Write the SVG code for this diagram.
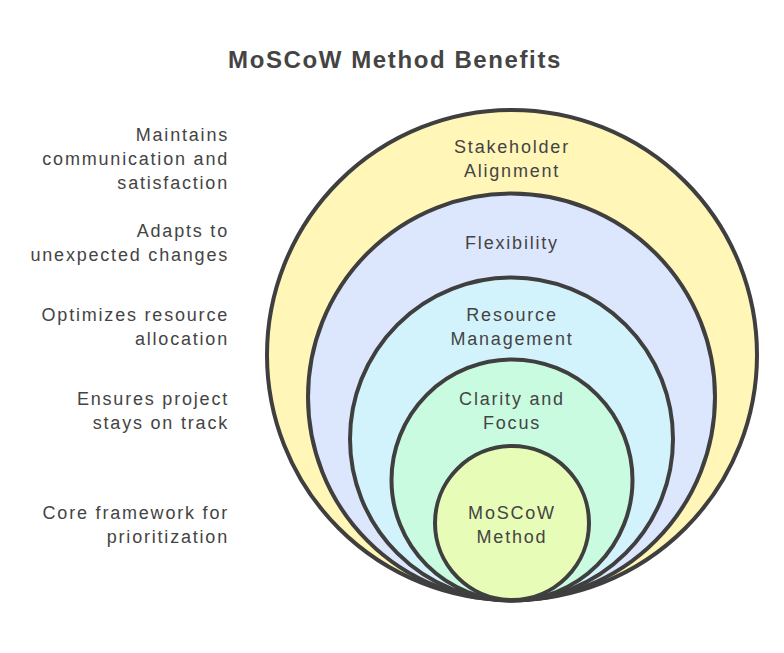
<svg xmlns="http://www.w3.org/2000/svg" width="784" height="653" viewBox="0 0 784 653">
<style>
.ring{stroke:#3f3f3f;stroke-width:4;}
.lbl{font-family:"Liberation Sans",Arial,sans-serif;font-size:18px;fill:#444;letter-spacing:1.8px;}
.in{text-anchor:middle;}
.side{text-anchor:end;}
.title{font-family:"Liberation Sans",Arial,sans-serif;font-size:24px;font-weight:bold;fill:#444;text-anchor:middle;letter-spacing:1.6px;}
</style>
<rect width="784" height="653" fill="#ffffff"/>
<text class="title" x="395" y="68">MoSCoW Method Benefits</text>
<g id="node-stakeholder">
<circle class="ring" cx="512" cy="355" r="245" fill="#fff6b8"/>
<text class="lbl in" x="512" y="153">Stakeholder</text>
<text class="lbl in" x="512" y="177">Alignment</text>
</g>
<g id="node-flexibility">
<circle class="ring" cx="511.5" cy="397" r="203.5" fill="#dce7fd"/>
<text class="lbl in" x="512" y="249">Flexibility</text>
</g>
<g id="node-resource">
<circle class="ring" cx="511.5" cy="439" r="161.5" fill="#d3f3fc"/>
<text class="lbl in" x="512" y="321">Resource</text>
<text class="lbl in" x="512" y="345">Management</text>
</g>
<g id="node-clarity">
<circle class="ring" cx="512" cy="480" r="120.5" fill="#c9fbe1"/>
<text class="lbl in" x="512" y="405">Clarity and</text>
<text class="lbl in" x="512" y="429">Focus</text>
</g>
<g id="node-moscow">
<circle class="ring" cx="512" cy="523" r="77" fill="#e7fcb6"/>
<text class="lbl in" x="512" y="519">MoSCoW</text>
<text class="lbl in" x="512" y="543">Method</text>
</g>
<g id="descriptions">
<text class="lbl side" x="229" y="141">Maintains</text>
<text class="lbl side" x="229" y="165">communication and</text>
<text class="lbl side" x="229" y="189">satisfaction</text>
<text class="lbl side" x="229" y="237">Adapts to</text>
<text class="lbl side" x="229" y="261">unexpected changes</text>
<text class="lbl side" x="229" y="321">Optimizes resource</text>
<text class="lbl side" x="229" y="345">allocation</text>
<text class="lbl side" x="229" y="405">Ensures project</text>
<text class="lbl side" x="229" y="429">stays on track</text>
<text class="lbl side" x="229" y="519">Core framework for</text>
<text class="lbl side" x="229" y="543">prioritization</text>
</g>
<g id="connectors"></g>
</svg>
